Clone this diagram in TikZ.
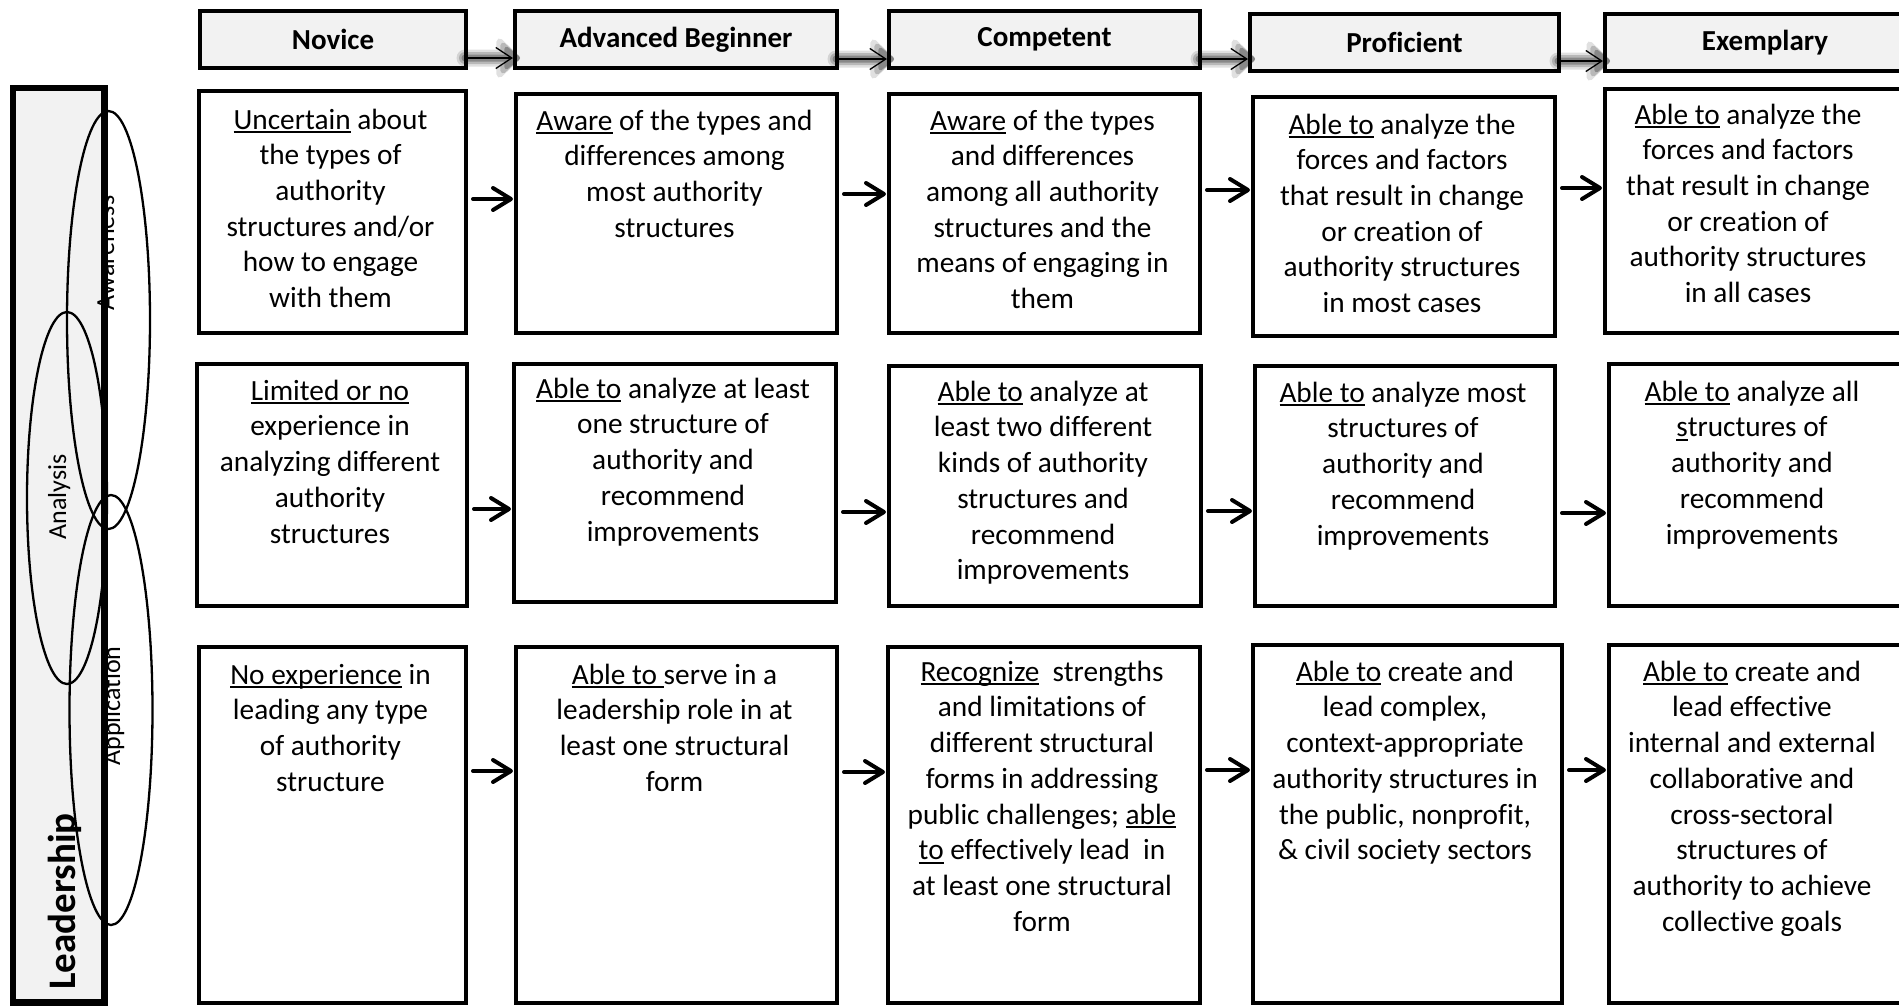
\documentclass[tikz,border=0pt]{standalone}
\usepackage{fontspec}
\setmainfont{Carlito}[Ligatures=NoCommon]
\usetikzlibrary{arrows.meta}
\definecolor{panelgray}{HTML}{F2F2F2}
\newsavebox\ulinebox
% underlined word with a rule at a fixed depth below the baseline
\newcommand\uword[1]{\sbox\ulinebox{#1}\rlap{\rule[-4pt]{\wd\ulinebox}{1.8pt}}\usebox\ulinebox}
% soft grey shadow behind the arrows between the stage headers
\newcommand\stageshadow[2]{%
  \foreach \lw/\tl/\tw/\op in {17/25/46/0.12, 12/21/36/0.18, 7/17/26/0.26}{%
    \begin{scope}[transparency group, opacity=\op]
      \draw[black, line width=\lw pt, line cap=round, yshift=-1.5pt,
            -{Triangle[length=\tl pt, width=\tw pt, round]},
            shorten >=-7pt, shorten <=-3pt] (#1) -- (#2);
    \end{scope}}}

\begin{document}
\begin{tikzpicture}[x=1pt,y=-1pt,
  stage/.style={draw, line width=4pt, fill=panelgray, inner sep=0pt, anchor=north west,
                font=\fontsize{29}{34}\selectfont\bfseries},
  cellbox/.style={draw, line width=4pt, fill=white, inner sep=0pt, anchor=north west},
  celltext/.style={font=\fontsize{29.3}{35.7}\selectfont, align=center, anchor=north, inner sep=0pt},
  sidetext/.style={font=\fontsize{26}{30}\selectfont, rotate=90, inner sep=0pt, anchor=base},
  oval/.style={line width=2.3pt},
  flowarrow/.style={line width=4pt, line cap=round,
                    -{Straight Barb[length=18pt,width=22pt,round]}, shorten <=5pt, shorten >=1pt},
  stagearrow/.style={line width=1.3pt, -{Straight Barb[length=16pt,width=21pt]}},
]
\useasboundingbox (0,0) rectangle (1899,1005);
\clip (0,0) rectangle (1899,1005);

% ---------- side bar ----------
\node[fill=panelgray, inner sep=0pt, anchor=north west, minimum width=91pt, minimum height=914pt]
  (bar) at (13,88) {};
\node[sidetext] (lblaware) at (114,253) {Awareness};
\node[sidetext] (lblanal) at (66,497) {Analysis};
\node[sidetext] (lblappl) at (120,706) {Application};
\node[font=\fontsize{39}{42}\selectfont\bfseries, rotate=90, anchor=base west, inner sep=0pt]
  (lbllead) at (75,990) {Leadership};
\draw[line width=6.5pt] (bar.north west) rectangle (bar.south east);

\draw[oval] (108.5,320) ellipse [x radius=41.5, y radius=209];
\draw[oval] (67,498) ellipse [x radius=40, y radius=186];
\draw[oval] (111,710) ellipse [x radius=41.5, y radius=215];

% ---------- stage headers ----------
\node[stage, minimum width=266pt, minimum height=57pt] (hN) at (198,9) {Novice};
\node[stage, minimum width=322pt, minimum height=57pt] (hA) at (513,9) {Advanced Beginner};
\node[stage, minimum width=311pt, minimum height=57pt] (hC) at (887,9) {Competent};
\node[stage, minimum width=309pt, minimum height=57pt] (hP) at (1248,12) {Proficient};
\node[stage, minimum width=320pt, minimum height=57pt] (hE) at (1603,12) {Exemplary};

\coordinate (ya) at (0,58);
\coordinate (yb) at (0,59);
\coordinate (yc) at (0,59);
\coordinate (yd) at (0,61);
\stageshadow{hN.east |- ya}{hA.west |- ya}
\stageshadow{hA.east |- yb}{hC.west |- yb}
\stageshadow{hC.east |- yc}{hP.west |- yc}
\stageshadow{hP.east |- yd}{hE.west |- yd}
\draw[stagearrow] (hN.east |- ya) -- (hA.west |- ya);
\draw[stagearrow] (hA.east |- yb) -- (hC.west |- yb);
\draw[stagearrow] (hC.east |- yc) -- (hP.west |- yc);
\draw[stagearrow] (hP.east |- yd) -- (hE.west |- yd);

% ---------- row 1: awareness ----------
\node[cellbox, minimum width=267pt, minimum height=242pt] (n1) at (197,89) {};
\node[cellbox, minimum width=321pt, minimum height=239pt] (a1) at (514,92) {};
\node[cellbox, minimum width=311pt, minimum height=239pt] (c1) at (887,92) {};
\node[cellbox, minimum width=302pt, minimum height=239pt] (p1) at (1251,95) {};
\node[cellbox, minimum width=320pt, minimum height=244pt] (e1) at (1603,87) {};

\node[celltext] (tn1) at (330.5,104) {\strut\uword{Uncertain} about\\the types of\\authority\\structures and/or\\how to engage\\with them};
\node[celltext] (ta1) at (674.5,105) {\strut\uword{Aware} of the types and\\differences among\\most authority\\structures};
\node[celltext] (tc1) at (1042.5,105) {\strut\uword{Aware} of the types\\and differences\\among all authority\\structures and the\\means of engaging in\\them};
\node[celltext] (tp1) at (1402,109) {\strut\uword{Able to} analyze the\\forces and factors\\that result in change\\or creation of\\authority structures\\in most cases};
\node[celltext] (te1) at (1748,99) {\strut\uword{Able to} analyze the\\forces and factors\\that result in change\\or creation of\\authority structures\\in all cases};

\coordinate (r1a) at (0,199);
\coordinate (r1b) at (0,194);
\coordinate (r1c) at (0,190);
\coordinate (r1d) at (0,188);
\draw[flowarrow] (n1.east |- r1a) -- (a1.west |- r1a);
\draw[flowarrow] (a1.east |- r1b) -- (c1.west |- r1b);
\draw[flowarrow] (c1.east |- r1c) -- (p1.west |- r1c);
\draw[flowarrow] (p1.east |- r1d) -- (e1.west |- r1d);

% ---------- row 2: analysis ----------
\node[cellbox, minimum width=270pt, minimum height=242pt] (n2) at (195,362) {};
\node[cellbox, minimum width=322pt, minimum height=238pt] (a2) at (512,362) {};
\node[cellbox, minimum width=312pt, minimum height=240pt] (c2) at (887,364) {};
\node[cellbox, minimum width=300pt, minimum height=240pt] (p2) at (1253,364) {};
\node[cellbox, minimum width=320pt, minimum height=242pt] (e2) at (1607,362) {};

\node[celltext] (tn2) at (330,375) {\strut\uword{Limited or no}\\experience in\\analyzing different\\authority\\structures};
\node[celltext] (ta2) at (673,373) {\strut\uword{Able to} analyze at least\\one structure of\\authority and\\recommend\\improvements};
\node[celltext] (tc2) at (1043,376) {\strut\uword{Able to} analyze at\\least two different\\kinds of authority\\structures and\\recommend\\improvements};
\node[celltext] (tp2) at (1403,377) {\strut\uword{Able to} analyze most\\structures of\\authority and\\recommend\\improvements};
\node[celltext] (te2) at (1752,376) {\strut\uword{Able to} analyze all\\\uword{s}tructures of\\authority and\\recommend\\improvements};

\coordinate (r2a) at (0,509);
\coordinate (r2b) at (0,512);
\coordinate (r2c) at (0,511);
\coordinate (r2d) at (0,513);
\draw[flowarrow] (n2.east |- r2a) -- (a2.west |- r2a);
\draw[flowarrow] (a2.east |- r2b) -- (c2.west |- r2b);
\draw[flowarrow] (c2.east |- r2c) -- (p2.west |- r2c);
\draw[flowarrow] (p2.east |- r2d) -- (e2.west |- r2d);

% ---------- row 3: application ----------
\node[cellbox, minimum width=267pt, minimum height=356pt] (n3) at (197,645) {};
\node[cellbox, minimum width=321pt, minimum height=356pt] (a3) at (514,645) {};
\node[cellbox, minimum width=312pt, minimum height=356pt] (c3) at (886,645) {};
\node[cellbox, minimum width=309pt, minimum height=358pt] (p3) at (1251,643) {};
\node[cellbox, minimum width=320pt, minimum height=358pt] (e3) at (1607,643) {};

\node[celltext] (tn3) at (330.5,659) {\strut\uword{No experience} in\\leading any type\\of authority\\structure};
\node[celltext] (ta3) at (674.5,659) {\strut\uword{Able to }serve in a\\leadership role in at\\least one structural\\form};
\node[celltext] (tc3) at (1042,656) {\strut\uword{Recognize}\ \ strengths\\and limitations of\\different structural\\forms in addressing\\public challenges; \uword{able}\\\uword{to} effectively lead\ \ in\\at least one structural\\form};
\node[celltext] (tp3) at (1405,656) {\strut\uword{Able to} create and\\lead complex,\\context-appropriate\\authority structures in\\the public, nonprofit,\\\& civil society sectors};
\node[celltext] (te3) at (1752,656) {\strut\uword{Able to} create and\\lead effective\\internal and external\\collaborative and\\cross-sectoral\\structures of\\authority to achieve\\collective goals};

\coordinate (r3a) at (0,771);
\coordinate (r3b) at (0,772);
\coordinate (r3c) at (0,770);
\coordinate (r3d) at (0,770);
\draw[flowarrow] (n3.east |- r3a) -- (a3.west |- r3a);
\draw[flowarrow] (a3.east |- r3b) -- (c3.west |- r3b);
\draw[flowarrow] (c3.east |- r3c) -- (p3.west |- r3c);
\draw[flowarrow] (p3.east |- r3d) -- (e3.west |- r3d);
\end{tikzpicture}
\end{document}
